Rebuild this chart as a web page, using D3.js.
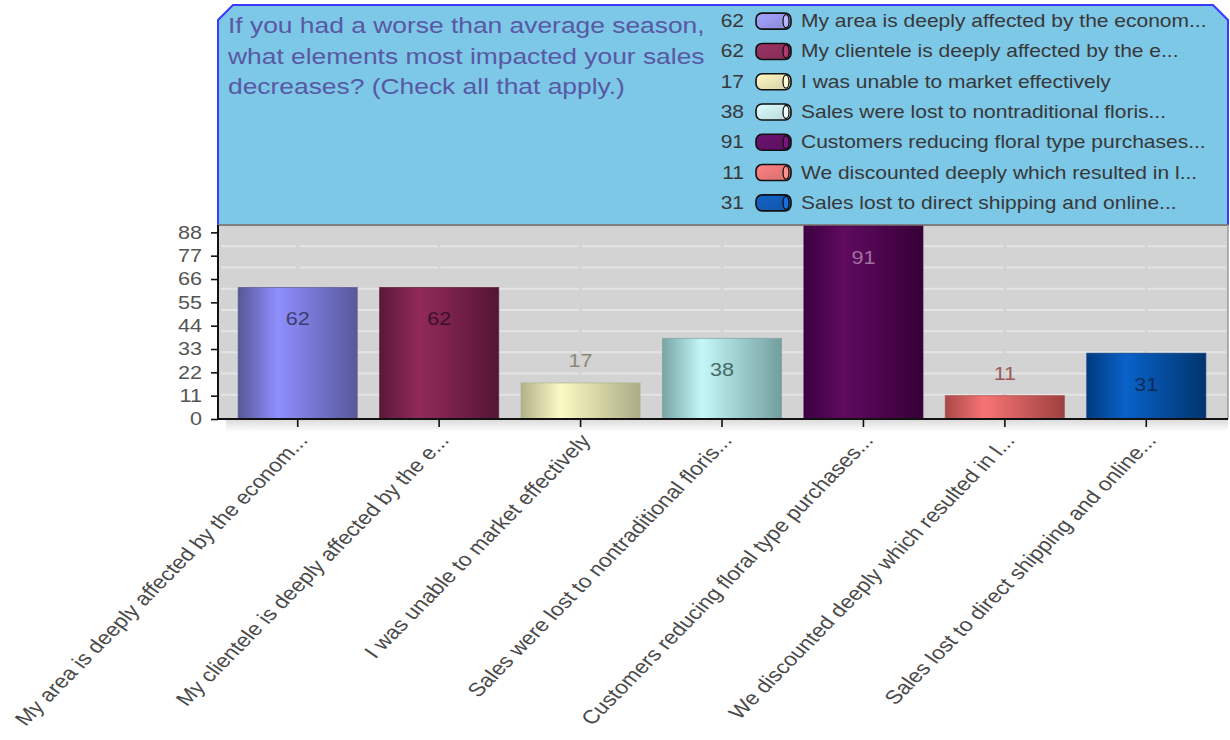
<!DOCTYPE html>
<html>
<head>
<meta charset="utf-8">
<script src="https://cdn.jsdelivr.net/npm/d3@7"></script>
<style>
  body { margin: 0; background: #fff; }
  svg { display: block; }
  text { font-family: "Liberation Sans", Arial, Helvetica, sans-serif; }
</style>
</head>
<body>
<div id="chart"></div>
<script>
// data
const categories = [
  "My area is deeply affected by the econom...",
  "My clientele is deeply affected by the e...",
  "I was unable to market effectively",
  "Sales were lost to nontraditional floris...",
  "Customers reducing floral type purchases...",
  "We discounted deeply which resulted in l...",
  "Sales lost to direct shipping and online..."
];
const values = [62, 62, 17, 38, 91, 11, 31];
const yTicks = [0, 11, 22, 33, 44, 55, 66, 77, 88];
const gridValues = [10, 20, 30, 40, 50, 60, 70, 80];
const titleLines = [
  "If you had a worse than average season,",
  "what elements most impacted your sales",
  "decreases? (Check all that apply.)"
];

// bar looks: edge, highlight, right edge, label colour, legend swatch
const palette = [
  { dark: "#575796", light: "#8f8fff", right: "#58589c", label: "#3c3c70", swatch: "#a4a4ff" },
  { dark: "#5a1838", light: "#922a5a", right: "#541534", label: "#3c1028", swatch: "#9c3464" },
  { dark: "#b2b28a", light: "#fafac4", right: "#acac86", label: "#8a8a72", swatch: "#fff8c4" },
  { dark: "#78a4a4", light: "#c4f8f8", right: "#749e9e", label: "#466868", swatch: "#dcffff" },
  { dark: "#3c0040", light: "#600a60", right: "#360036", label: "#a070a0", swatch: "#6c1270" },
  { dark: "#a84848", light: "#f87474", right: "#9e4040", label: "#9a5a5a", swatch: "#ff8282" },
  { dark: "#003a80", light: "#0a62c8", right: "#00346e", label: "#0c2c58", swatch: "#1464c8" }
];

const width = 1230, height = 740;
const margin = { top: 225, right: 2, bottom: 321, left: 218 };
const plotRight = width - margin.right;
const plotBottom = height - margin.bottom;   // 419
const stretch = "scale(1.2,1)";

const svg = d3.select("#chart")
  .append("svg")
  .attr("width", width)
  .attr("height", height)
  .attr("viewBox", [0, 0, width, height]);

const defs = svg.append("defs");

const x = d3.scaleBand()
  .domain(categories)
  .range([227, 1217])
  .padding(0);
const barW = x.bandwidth() * 0.842;

const y = d3.scaleLinear()
  .domain([0, 91])
  .range([plotBottom, 226]);

palette.forEach((p, i) => {
  const grad = defs.append("linearGradient")
    .attr("id", `bar${i}`)
    .attr("x1", 0).attr("x2", 1).attr("y1", 0).attr("y2", 0);
  grad.append("stop").attr("offset", "0%").attr("stop-color", p.dark);
  grad.append("stop").attr("offset", "33%").attr("stop-color", p.light);
  grad.append("stop").attr("offset", "100%").attr("stop-color", p.right);

  const sw = defs.append("linearGradient")
    .attr("id", `sw${i}`)
    .attr("x1", 0).attr("x2", 1).attr("y1", 0).attr("y2", 1);
  sw.append("stop").attr("offset", "0%").attr("stop-color", p.swatch);
  sw.append("stop").attr("offset", "100%").attr("stop-color", d3.color(p.swatch).darker(0.5));
});

const shadow = defs.append("linearGradient")
  .attr("id", "shadow")
  .attr("x1", 0).attr("x2", 0).attr("y1", 0).attr("y2", 1);
shadow.append("stop").attr("offset", "0%").attr("stop-color", "#dcdcdc");
shadow.append("stop").attr("offset", "100%").attr("stop-color", "#ffffff");

// title box with cut corners
svg.append("path")
  .attr("d", `M${margin.left},${margin.top} L${margin.left},20 L233,5 L${plotRight - 15},5 L${plotRight},20 L${plotRight},${margin.top}`)
  .attr("fill", "#7dc7e7")
  .attr("stroke", "#3a3aff")
  .attr("stroke-width", 2);

svg.append("g")
  .selectAll("text")
  .data(titleLines)
  .join("text")
  .attr("transform", (d, i) => `translate(228,${33 + i * 30.5}) ${stretch}`)
  .attr("font-size", 22)
  .attr("fill", "#5858a4")
  .text(d => d);

// legend
const ly = d3.scaleBand()
  .domain(d3.range(categories.length))
  .range([6, 218]);

const legend = svg.append("g")
  .selectAll("g")
  .data(categories)
  .join("g")
  .attr("transform", (d, i) => `translate(0,${ly(i) + ly.bandwidth() / 2})`);

legend.append("text")
  .attr("transform", `translate(744,6) ${stretch}`)
  .attr("text-anchor", "end")
  .attr("font-size", 17.5)
  .attr("fill", "#383838")
  .text((d, i) => values[i]);

legend.append("rect")
  .attr("x", 756).attr("y", -8)
  .attr("width", 35).attr("height", 16)
  .attr("rx", 6).attr("ry", 6)
  .attr("fill", (d, i) => `url(#sw${i})`)
  .attr("stroke", "#111")
  .attr("stroke-width", 1.6);

legend.append("ellipse")
  .attr("cx", 786).attr("cy", 0)
  .attr("rx", 3).attr("ry", 6.5)
  .attr("fill", (d, i) => d3.color(palette[i].swatch).brighter(0.3))
  .attr("stroke", "#111")
  .attr("stroke-width", 1.3);

legend.append("text")
  .attr("transform", `translate(801,6) ${stretch}`)
  .attr("font-size", 17.5)
  .attr("fill", "#383838")
  .text(d => d);

// plot area
svg.append("rect")
  .attr("x", margin.left).attr("y", margin.top)
  .attr("width", plotRight - margin.left)
  .attr("height", plotBottom - margin.top)
  .attr("fill", "#d3d3d3");

svg.append("rect")
  .attr("x", 226).attr("y", plotBottom + 1)
  .attr("width", plotRight - 226).attr("height", 12)
  .attr("fill", "url(#shadow)");

// grid segments, broken at the category ticks
const cuts = [margin.left + 3, ...categories.map(c => x(c) + x.bandwidth() / 2), plotRight - 2];
const segs = d3.pairs(cuts).map(([a, b], i) => [i === 0 ? a : a + 1.5, i === cuts.length - 2 ? b : b - 1.5]);

svg.append("g")
  .selectAll("g")
  .data(gridValues)
  .join("g")
  .selectAll("line")
  .data(v => segs.map(s => ({ v, s })))
  .join("line")
  .attr("x1", d => d.s[0]).attr("x2", d => d.s[1])
  .attr("y1", d => y(d.v) - 3).attr("y2", d => y(d.v) - 3)
  .attr("stroke", "#e4e4e4")
  .attr("stroke-width", 2);

svg.append("line")
  .attr("x1", margin.left).attr("x2", plotRight)
  .attr("y1", margin.top).attr("y2", margin.top)
  .attr("stroke", "#808080").attr("stroke-width", 2);

svg.append("line")
  .attr("x1", plotRight).attr("x2", plotRight)
  .attr("y1", margin.top).attr("y2", plotBottom)
  .attr("stroke", "#9a9a9a").attr("stroke-width", 1.5);

// bars
const bars = svg.append("g")
  .selectAll("g")
  .data(categories)
  .join("g");

bars.append("rect")
  .attr("x", d => x(d) + (x.bandwidth() - barW) / 2)
  .attr("y", (d, i) => y(values[i]))
  .attr("width", barW)
  .attr("height", (d, i) => y(0) - y(values[i]))
  .attr("fill", (d, i) => `url(#bar${i})`)
  .attr("stroke", (d, i) => palette[i].dark)
  .attr("stroke-opacity", 0.7)
  .attr("stroke-width", 1);

bars.append("text")
  .attr("transform", (d, i) => {
    const top = y(values[i]);
    const ty = (y(0) - top) > 45 ? top + 37.5 : top - 15.5;
    return `translate(${x(d) + x.bandwidth() / 2},${ty}) ${stretch}`;
  })
  .attr("text-anchor", "middle")
  .attr("font-size", 18)
  .attr("fill", (d, i) => palette[i].label)
  .text((d, i) => values[i]);

// axes
svg.append("g")
  .attr("transform", `translate(${margin.left},0)`)
  .call(d3.axisLeft(y).tickValues(yTicks).tickSize(7).tickPadding(9))
  .call(g => g.select(".domain").remove())
  .call(g => g.selectAll(".tick line").attr("stroke", "#111").attr("stroke-width", 1.6))
  .call(g => g.selectAll(".tick text")
    .attr("x", 0)
    .attr("transform", `translate(-16,0) ${stretch}`)
    .attr("font-size", 18)
    .attr("font-family", null)
    .attr("fill", "#555"));

svg.append("g")
  .attr("transform", `translate(0,${plotBottom})`)
  .call(d3.axisBottom(x).tickSize(8).tickFormat(""))
  .call(g => g.select(".domain").remove())
  .call(g => g.selectAll(".tick line").attr("stroke", "#111").attr("stroke-width", 1.6));

svg.append("line")
  .attr("x1", margin.left).attr("x2", margin.left)
  .attr("y1", margin.top).attr("y2", plotBottom)
  .attr("stroke", "#111").attr("stroke-width", 2);

svg.append("line")
  .attr("x1", margin.left - 1).attr("x2", plotRight)
  .attr("y1", plotBottom).attr("y2", plotBottom)
  .attr("stroke", "#111").attr("stroke-width", 2);

// slanted category labels
svg.append("g")
  .selectAll("text")
  .data(categories)
  .join("text")
  .attr("transform", d => `translate(${x(d) + x.bandwidth() / 2 + 11},441) ${stretch} rotate(-50.5)`)
  .attr("text-anchor", "end")
  .attr("font-size", 19.2)
  .attr("fill", "#4a4a4a")
  .text(d => d);
</script>
</body>
</html>
